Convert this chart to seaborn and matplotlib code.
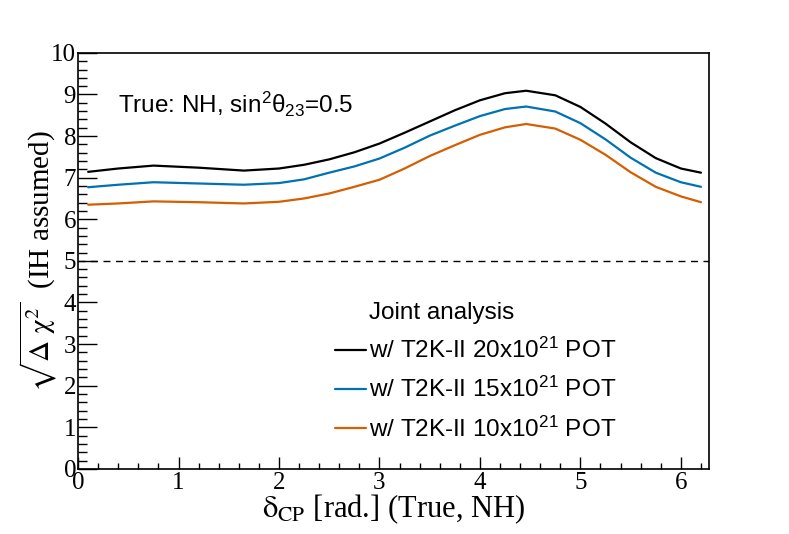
import numpy as np
import pandas as pd
import matplotlib
matplotlib.use('Agg')
import matplotlib.pyplot as plt
from matplotlib.lines import Line2D
import seaborn as sns

# Sensitivity curves
delta_cp = [0.1, 0.4, 0.75, 1.2, 1.65, 2.0, 2.25, 2.5, 2.75, 3.0, 3.25, 3.5, 3.75,
            4.0, 4.25, 4.46, 4.75, 5.0, 5.25, 5.5, 5.75, 6.0, 6.2]
pot20 = [7.14, 7.22, 7.29, 7.24, 7.17, 7.22, 7.31, 7.44, 7.61, 7.82, 8.08, 8.35, 8.62,
         8.86, 9.03, 9.09, 8.98, 8.70, 8.30, 7.85, 7.47, 7.22, 7.12]
pot15 = [6.77, 6.83, 6.89, 6.86, 6.83, 6.87, 6.96, 7.12, 7.27, 7.46, 7.72, 8.01, 8.25,
         8.48, 8.65, 8.71, 8.59, 8.31, 7.92, 7.48, 7.12, 6.89, 6.78]
pot10 = [6.35, 6.38, 6.43, 6.41, 6.38, 6.42, 6.50, 6.62, 6.78, 6.95, 7.22, 7.52, 7.78,
         8.03, 8.21, 8.29, 8.18, 7.91, 7.55, 7.13, 6.78, 6.55, 6.41]
series_labels = ['w/ T2K-II 20x10$^{21}$ POT',
                 'w/ T2K-II 15x10$^{21}$ POT',
                 'w/ T2K-II 10x10$^{21}$ POT']
colors = ['black', '#0072b2', '#d55e00']
threshold = 5

sns.set_style('white')
plt.rcParams['font.family'] = ['Liberation Sans', 'DejaVu Sans']
plt.rcParams['mathtext.fontset'] = 'custom'
plt.rcParams['mathtext.rm'] = 'Liberation Sans'
plt.rcParams['mathtext.it'] = 'Liberation Sans:italic'
plt.rcParams['text.color'] = 'black'
plt.rcParams['axes.labelcolor'] = 'black'
plt.rcParams['xtick.color'] = 'black'
plt.rcParams['ytick.color'] = 'black'

df = pd.DataFrame({
    'delta': delta_cp * 3,
    'chi': pot20 + pot15 + pot10,
    'series': [series_labels[0]] * len(delta_cp) + [series_labels[1]] * len(delta_cp)
              + [series_labels[2]] * len(delta_cp),
})

fig = plt.figure(figsize=(7.89, 5.34), dpi=100)
ax = fig.add_axes([0.099, 0.122, 0.8, 0.779])

sns.lineplot(data=df, x='delta', y='chi', hue='series', hue_order=series_labels,
             palette=dict(zip(series_labels, colors)), linewidth=1.6, legend=False, ax=ax)
ax.axhline(threshold, color='black', linestyle=(0, (5, 4)), linewidth=1.0)

ax.set_xlim(0, 2 * np.pi)
ax.set_ylim(0, 10)
ax.set_xticks(range(0, 7))
ax.set_yticks(range(0, 11))
ax.set_xticks(np.arange(0, 6.3, 0.2), minor=True)
ax.set_yticks(np.arange(0, 10.01, 0.2), minor=True)
for lab in ax.get_xticklabels() + ax.get_yticklabels():
    lab.set_family('Liberation Serif')
    lab.set_fontsize(18)
ax.tick_params(which='both', bottom=True, left=True, top=False, right=False)
ax.tick_params(axis='x', which='major', direction='in', length=9, width=1, pad=2)
ax.tick_params(axis='x', which='minor', direction='in', length=4.5, width=1)
ax.tick_params(axis='y', which='major', direction='in', length=13.5, width=1, pad=1.5)
ax.tick_params(axis='y', which='minor', direction='in', length=6.8, width=1)
for sp in ax.spines.values():
    sp.set_linewidth(1.2)
    sp.set_color('black')

ax.set_xlabel(r'$\mathrm{\delta}_{\mathrm{CP}}$ [rad.] (True, NH)', family='Liberation Serif',
              fontsize=22, math_fontfamily='stix', labelpad=-1)
ax.set_ylabel(r'$\sqrt{\Delta\ \mathrm{\chi}^2}$  (IH assumed)', family='Liberation Serif',
              fontsize=21, math_fontfamily='stix', labelpad=-6)

ax.text(0.063, 0.856, 'True: NH, sin$^{2}$θ$_{23}$=0.5', transform=ax.transAxes,
        fontsize=17.5, va='baseline')

handles = [Line2D([], [], color='none')] + \
          [Line2D([], [], color=c, linewidth=1.6) for c in colors]
labels = ['Joint analysis'] + series_labels
ax.legend(handles, labels, loc='upper left', bbox_to_anchor=(0.392, 0.425), frameon=False,
          fontsize=17.5, handlelength=1.25, handletextpad=0.12, labelspacing=0.58,
          borderaxespad=0)

fig.savefig('out.png', dpi=100)
